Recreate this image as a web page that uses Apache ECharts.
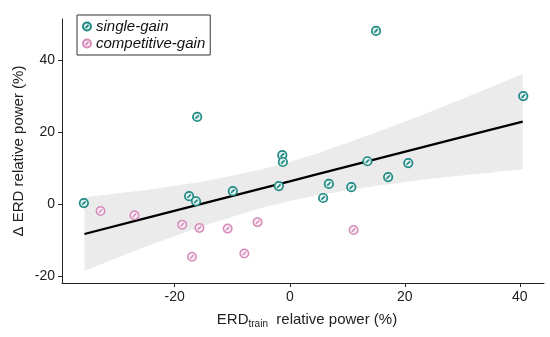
<!DOCTYPE html>
<html><head><meta charset="utf-8">
<script src="https://cdn.jsdelivr.net/npm/echarts@6/dist/echarts.min.js"></script>
<style>html,body{margin:0;padding:0;background:#fff}#c{width:550px;height:337px}</style>
</head><body><div id="c"></div>
<script>
// ---- data ----
const singleGain = [
  [-35.8, 0.3], [-17.5, 2.2], [-16.3, 0.8], [-16.1, 24.2], [-9.9, 3.6],
  [-1.3, 13.6], [-1.2, 11.7], [-1.9, 5.0], [6.8, 5.6], [5.8, 1.7],
  [10.7, 4.7], [13.5, 11.9], [15.0, 48.1], [17.1, 7.5], [20.6, 11.4], [40.6, 30.0]
];
const competitiveGain = [
  [-32.9, -1.9], [-27.0, -3.1], [-18.7, -5.7], [-15.7, -6.6], [-10.8, -6.8],
  [-5.6, -5.0], [-17.0, -14.6], [-7.9, -13.7], [11.1, -7.2]
];
// regression line and confidence band
const fitX    = [-35.7, -25, -15, -5, 0, 5, 15, 25, 35, 40.5];
const fitY    = [-8.3, -3.9, 0.2, 4.3, 6.3, 8.4, 12.5, 16.6, 20.7, 22.9];
const bandLow = [-18.5, -11.8, -6.0, -1.1, 0.9, 2.5, 5.1, 7.1, 8.8, 9.7];
const bandHigh= [1.9, 3.9, 6.3, 9.6, 11.7, 14.2, 19.9, 26.0, 32.5, 36.1];
const xTicks = [-20, 0, 20, 40];
const yTicks = [-20, 0, 20, 40];

const FONT = '"Liberation Sans", Arial, sans-serif';
const markerPath = 'path://M0,10 A10,10 0 1,1 20,10 A10,10 0 1,1 0,10 Z M6,14 L14,6';

const bandData = fitX.map((x, i) => [x, bandLow[i], bandHigh[i]]);

const chart = echarts.init(document.getElementById('c'), null, {renderer: 'canvas'});
chart.setOption({
  animation: false,
  textStyle: {fontFamily: FONT},
  grid: {left: 62, right: 6, top: 19, bottom: 54, containLabel: false},
  legend: {
    data: ['single-gain', 'competitive-gain'],
    orient: 'vertical', left: 77, top: 15,
    borderColor: '#333', borderWidth: 1, borderRadius: 0,
    padding: [4, 5, 4, 5], itemGap: 2, itemWidth: 8, itemHeight: 8,
    textStyle: {fontFamily: FONT, fontStyle: 'italic', fontSize: 15, color: '#111', lineHeight: 15}
  },
  xAxis: {
    type: 'value', min: -39.6, max: 44.2,
    splitLine: {show: false},
    axisLine: {onZero: false, lineStyle: {color: '#222', width: 1}},
    axisTick: {length: 4, lineStyle: {color: '#222'}, customValues: xTicks},
    axisLabel: {customValues: xTicks, fontSize: 14, color: '#222', margin: 7, fontFamily: FONT},
    name: '{a|ERD}{s|train}{a|  relative power (%)}',
    nameLocation: 'middle', nameGap: 28,
    nameTextStyle: {
      fontFamily: FONT, color: '#222', padding: [0, 0, 0, 8],
      rich: {
        a: {fontSize: 15, fontFamily: FONT, color: '#222', lineHeight: 18},
        s: {fontSize: 10, fontFamily: FONT, color: '#222', verticalAlign: 'bottom', lineHeight: 12, padding: [6, 0, 0, 0]}
      }
    }
  },
  yAxis: {
    type: 'value', min: -21.9, max: 51.4,
    splitLine: {show: false},
    axisLine: {show: true, onZero: false, lineStyle: {color: '#222', width: 1}},
    axisTick: {show: true, length: 4, lineStyle: {color: '#222'}, customValues: yTicks},
    axisLabel: {customValues: yTicks, fontSize: 14, color: '#222', margin: 7, fontFamily: FONT},
    name: 'Δ ERD relative power (%)',
    nameLocation: 'middle', nameGap: 36, nameMoveOverlap: false,
    nameTextStyle: {fontSize: 15, color: '#222', fontFamily: FONT}
  },
  series: [
    {
      name: 'band', type: 'custom', silent: true, z: 1,
      data: bandData,
      encode: {x: 0, y: [1, 2]},
      renderItem: function (params, api) {
        if (params.dataIndex !== 0) return null;
        const upper = bandData.map(d => api.coord([d[0], d[2]]));
        const lower = bandData.slice().reverse().map(d => api.coord([d[0], d[1]]));
        return {
          type: 'polygon',
          shape: {points: upper.concat(lower)},
          style: {fill: '#ebebeb', stroke: null}
        };
      }
    },
    {
      name: 'fit', type: 'line', symbol: 'none', silent: true,
      lineStyle: {color: '#000', width: 2.2},
      data: fitX.map((x, i) => [x, fitY[i]]), z: 2
    },
    {
      name: 'single-gain', type: 'scatter', symbol: markerPath, symbolSize: 8.5,
      itemStyle: {color: '#e4f2f0', borderColor: '#1f8a83', borderWidth: 1.7, opacity: 1},
      data: singleGain, z: 3
    },
    {
      name: 'competitive-gain', type: 'scatter', symbol: markerPath, symbolSize: 8.5,
      itemStyle: {color: '#faeef5', borderColor: '#d58cb9', borderWidth: 1.5, opacity: 1},
      data: competitiveGain, z: 3
    }
  ]
});
</script></body></html>
